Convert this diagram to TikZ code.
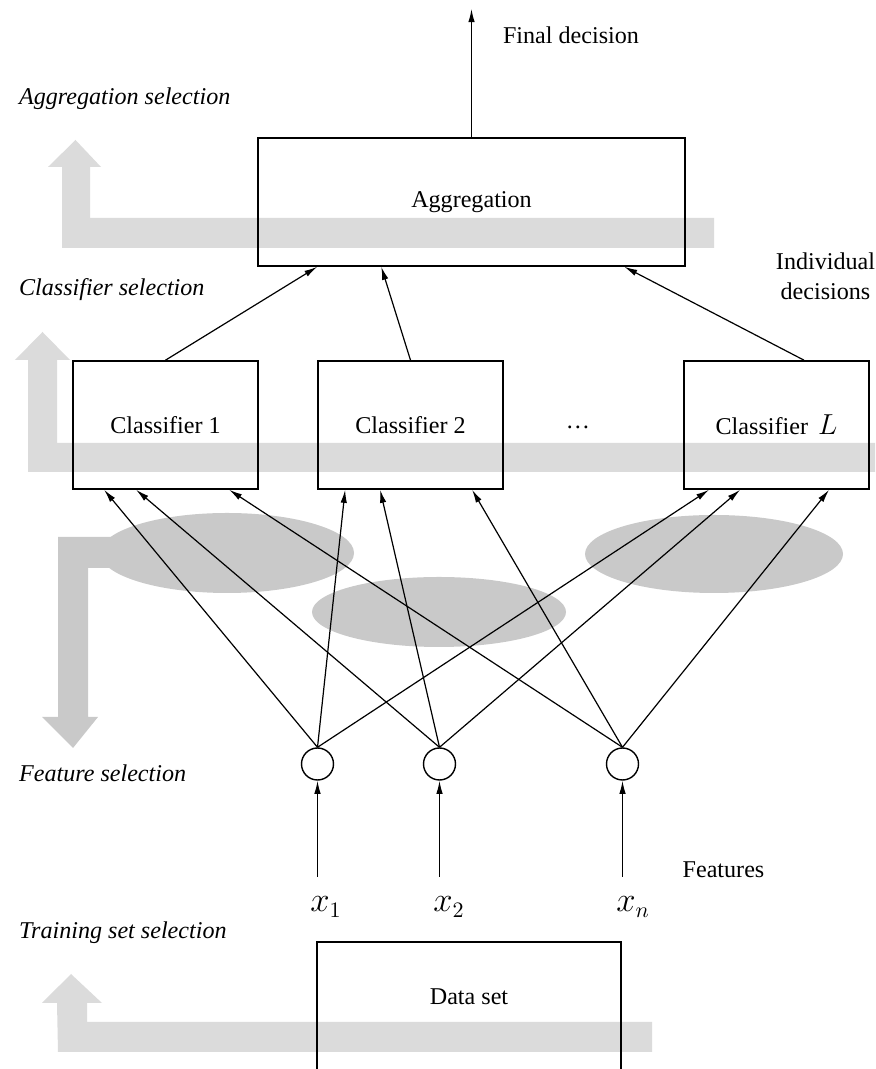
\documentclass[tikz,border=0pt]{standalone}
\usepackage{fontspec}
\setmainfont{Liberation Serif}
\usetikzlibrary{arrows.meta,calc}

\begin{document}
\begin{tikzpicture}[x=1.75cm,y=1.75cm,font=\fontsize{12}{15}\selectfont,
  box/.style={draw,line width=.8pt,minimum height=2.24cm,inner sep=0pt},
  feat/.style={draw,circle,line width=.7pt,minimum size=.56cm,inner sep=0pt},
  arr/.style={line width=.6pt,-{Latex[length=6.5pt,width=3.2pt]}},
  band/.style={fill=gray!28},
  blob/.style={fill=gray!42},
  sel/.style={anchor=west,font=\fontsize{12}{15}\selectfont\itshape},
  var/.style={font=\fontsize{16}{18}\selectfont}]
\useasboundingbox (0,0) rectangle (8.75,10.69);
\clip (0,0) rectangle (8.75,10.69);
% shaded selection levels
\fill[band] (.62,8.21)--(7.14,8.21)--(7.14,8.51)--(.90,8.51)--(.90,9.02)--(1.01,9.02)--(.755,9.29)--(.48,9.02)--(.62,9.02)--cycle;
\fill[band] (.28,5.97)--(8.75,5.97)--(8.75,6.26)--(.57,6.26)--(.57,7.09)--(.70,7.09)--(.425,7.37)--(.15,7.09)--(.28,7.09)--cycle;
\fill[blob] (1.5,5.32)--(.58,5.32)--(.58,3.52)--(.42,3.52)--(.73,3.21)--(.98,3.52)--(.88,3.52)--(.88,5.01)--(1.5,5.01)--cycle;
\fill[band] (.58,.17)--(6.52,.17)--(6.52,.47)--(.87,.47)--(.87,.66)--(1.02,.66)--(.71,.95)--(.42,.66)--(.57,.66)--cycle;
\fill[blob] (2.27,5.16) ellipse (1.27 and .40);
\fill[blob] (4.39,4.57) ellipse (1.27 and .35);
\fill[blob] (7.14,5.15) ellipse (1.29 and .39);
% level names
\node[sel] at (.12,9.70) {Aggregation selection};
\node[sel] at (.12,7.79) {Classifier selection};
\node[sel] at (.12,2.96) {Feature selection};
\node[sel] at (.12,1.36) {Training set selection};
% aggregation
\node[box,minimum width=7.47cm] (agg) at (4.715,8.67) {Aggregation};
\coordinate (out) at (4.715,10.60);
\draw[arr] (agg.north) -- (out);
\node at (5.71,10.34) {Final decision};
\node[align=center] at (8.255,7.93) {Individual\\decisions};
% classifiers
\node[box,minimum width=3.24cm] (c1) at (1.655,6.44) {Classifier 1};
\node[box,minimum width=3.24cm] (c2) at (4.105,6.44) {Classifier 2};
\node[box,minimum width=3.24cm] (cL) at (7.765,6.44) {Classifier\, {\fontsize{14}{16}\selectfont$L$}};
\node at (5.78,6.42) {\dots};
\draw[arr] (c1.north) -- ($(agg.south west)+(.60,0)$);
\draw[arr] (c2.north) -- ($(agg.south west)+(1.24,0)$);
\draw[arr] ($(cL.north)+(.275,0)$) -- ($(agg.south west)+(3.67,0)$);
% features
\node[feat] (f1) at (3.175,3.05) {};
\node[feat] (f2) at (4.395,3.05) {};
\node[feat] (f3) at (6.225,3.05) {};
\foreach \c/\a/\b/\d in {c1/.32/.64/1.57,c2/.28/.63/1.55,cL/.26/.57/1.46}{
  \draw[arr] (f1.north) -- ($(\c.south west)+(\a,0)$);
  \draw[arr] (f2.north) -- ($(\c.south west)+(\b,0)$);
  \draw[arr] (f3.north) -- ($(\c.south west)+(\d,0)$);
}
\coordinate (s1) at (3.175,1.92);
\coordinate (s2) at (4.395,1.92);
\coordinate (s3) at (6.225,1.92);
\foreach \i in {1,2,3}
  \draw[arr] (s\i) -- (f\i);
\node[var] (x1) at (3.26,1.62) {$x_1$};
\node[var] (x2) at (4.49,1.62) {$x_2$};
\node[var] (xn) at (6.33,1.62) {$x_n$};
\node at (7.235,1.99) {Features};
% data
\node[draw,line width=.8pt,minimum width=5.32cm,anchor=north,inner ysep=0pt,
  text height=1.09cm,text depth=2cm] (data) at (4.69,1.28) {Data set};
\end{tikzpicture}
\end{document}
